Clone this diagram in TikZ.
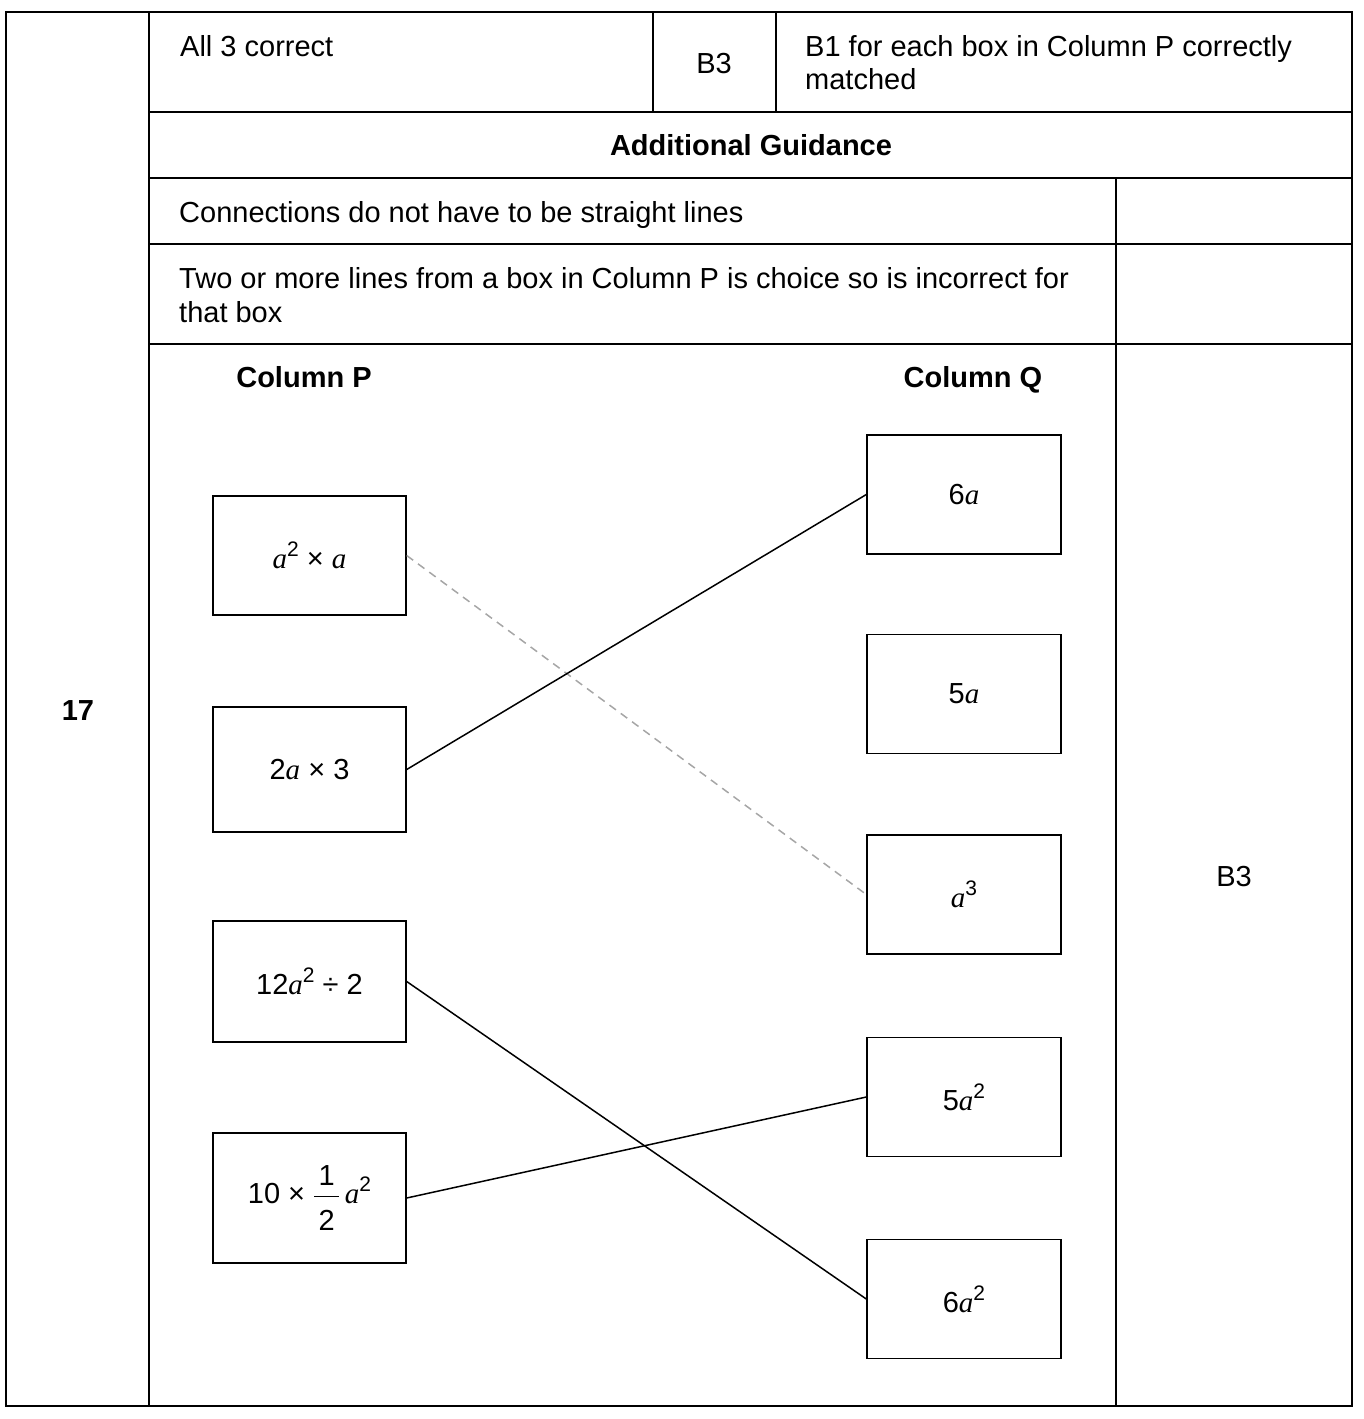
\documentclass[tikz,border=0pt]{standalone}
\usepackage{fontspec}
\usepackage{amsmath}
\setmainfont{Liberation Sans}
\newfontfamily\serf{Liberation Serif}
\newcommand\va{{\serf\itshape a}}
\newcommand\sq[1]{\raisebox{12pt}{\fontsize{21}{21}\selectfont #1}}
\newcommand\half{$\dfrac{\,\raisebox{0pt}[\height][8pt]{1}\,}{\,\raisebox{0pt}[30pt][\depth]{2}\,}$}
\begin{document}
\begin{tikzpicture}[x=1pt,y=-1pt,
  tline/.style={line width=1.3pt},
  txt/.style={anchor=base west,inner sep=0,font=\fontsize{29}{33}\selectfont},
  ctxt/.style={anchor=base,inner sep=0,font=\fontsize{29}{33}\selectfont},
  btxt/.style={anchor=base,inner sep=0,font=\fontsize{29}{33}\selectfont\bfseries},
  pbox/.style={draw,line width=1.4pt,inner sep=0,minimum width=193pt,font=\fontsize{29}{33}\selectfont},
  qbox/.style={draw,line width=1.4pt,inner sep=0,minimum width=194pt,minimum height=119pt,font=\fontsize{29}{33}\selectfont},
  link/.style={line width=1.5pt},
  dlink/.style={line width=1.5pt,draw=black!35,dash pattern=on 8pt off 6pt}]
\useasboundingbox (0,0) rectangle (1364,1419);
% table
\draw[tline] (6,12) rectangle (1352,1406);
\draw[tline] (149,12) -- (149,1406);
\draw[tline] (149,112) -- (1352,112);
\draw[tline] (149,178) -- (1352,178);
\draw[tline] (149,244) -- (1352,244);
\draw[tline] (149,344) -- (1352,344);
\draw[tline] (653,12) -- (653,112);
\draw[tline] (776,12) -- (776,112);
\draw[tline] (1116,178) -- (1116,1406);
% texts
\node[txt] (t1) at (180,56) {All 3 correct};
\node[ctxt] (t2) at (714,73) {B3};
\node[txt] (t3) at (805,56) {B1 for each box in Column P correctly};
\node[txt] (t4) at (805,89) {matched};
\node[btxt] (t5) at (751,155) {Additional Guidance};
\node[txt] (t6) at (179,222) {Connections do not have to be straight lines};
\node[txt] (t7) at (179,288) {Two or more lines from a box in Column P is choice so is incorrect for};
\node[txt] (t8) at (179,322) {that box};
\node[btxt] (cp) at (304,387) {Column P};
\node[btxt] (cq) at (973,387) {Column Q};
\node[btxt] (q17) at (78,720) {17};
\node[ctxt] (b3) at (1234,886) {B3};
% column P
\node[pbox,minimum height=119pt] (p1) at (309.5,555.5) {\va\sq{2} × \va};
\node[pbox,minimum height=125pt] (p2) at (309.5,769.5) {2\va\ × 3};
\node[pbox,minimum height=121pt] (p3) at (309.5,981.5) {12\va\sq{2} ÷ 2};
\node[pbox,minimum height=130pt] (p4) at (309.5,1198) {10 × \half\,\va\sq{2}};
% column Q
\node[qbox] (q1) at (964,494.5) {6\va};
\node[qbox] (q2) at (964,694) {5\va};
\node[qbox] (q3) at (964,894.5) {\va\sq{3}};
\node[qbox] (q4) at (964,1097) {5\va\sq{2}};
\node[qbox] (q5) at (964,1299) {6\va\sq{2}};
% connectors
\draw[dlink] (p1.east) -- (q3.west);
\draw[link] (p2.east) -- (q1.west);
\draw[link] (p3.east) -- (q5.west);
\draw[link] (p4.east) -- (q4.west);
\end{tikzpicture}
\end{document}
